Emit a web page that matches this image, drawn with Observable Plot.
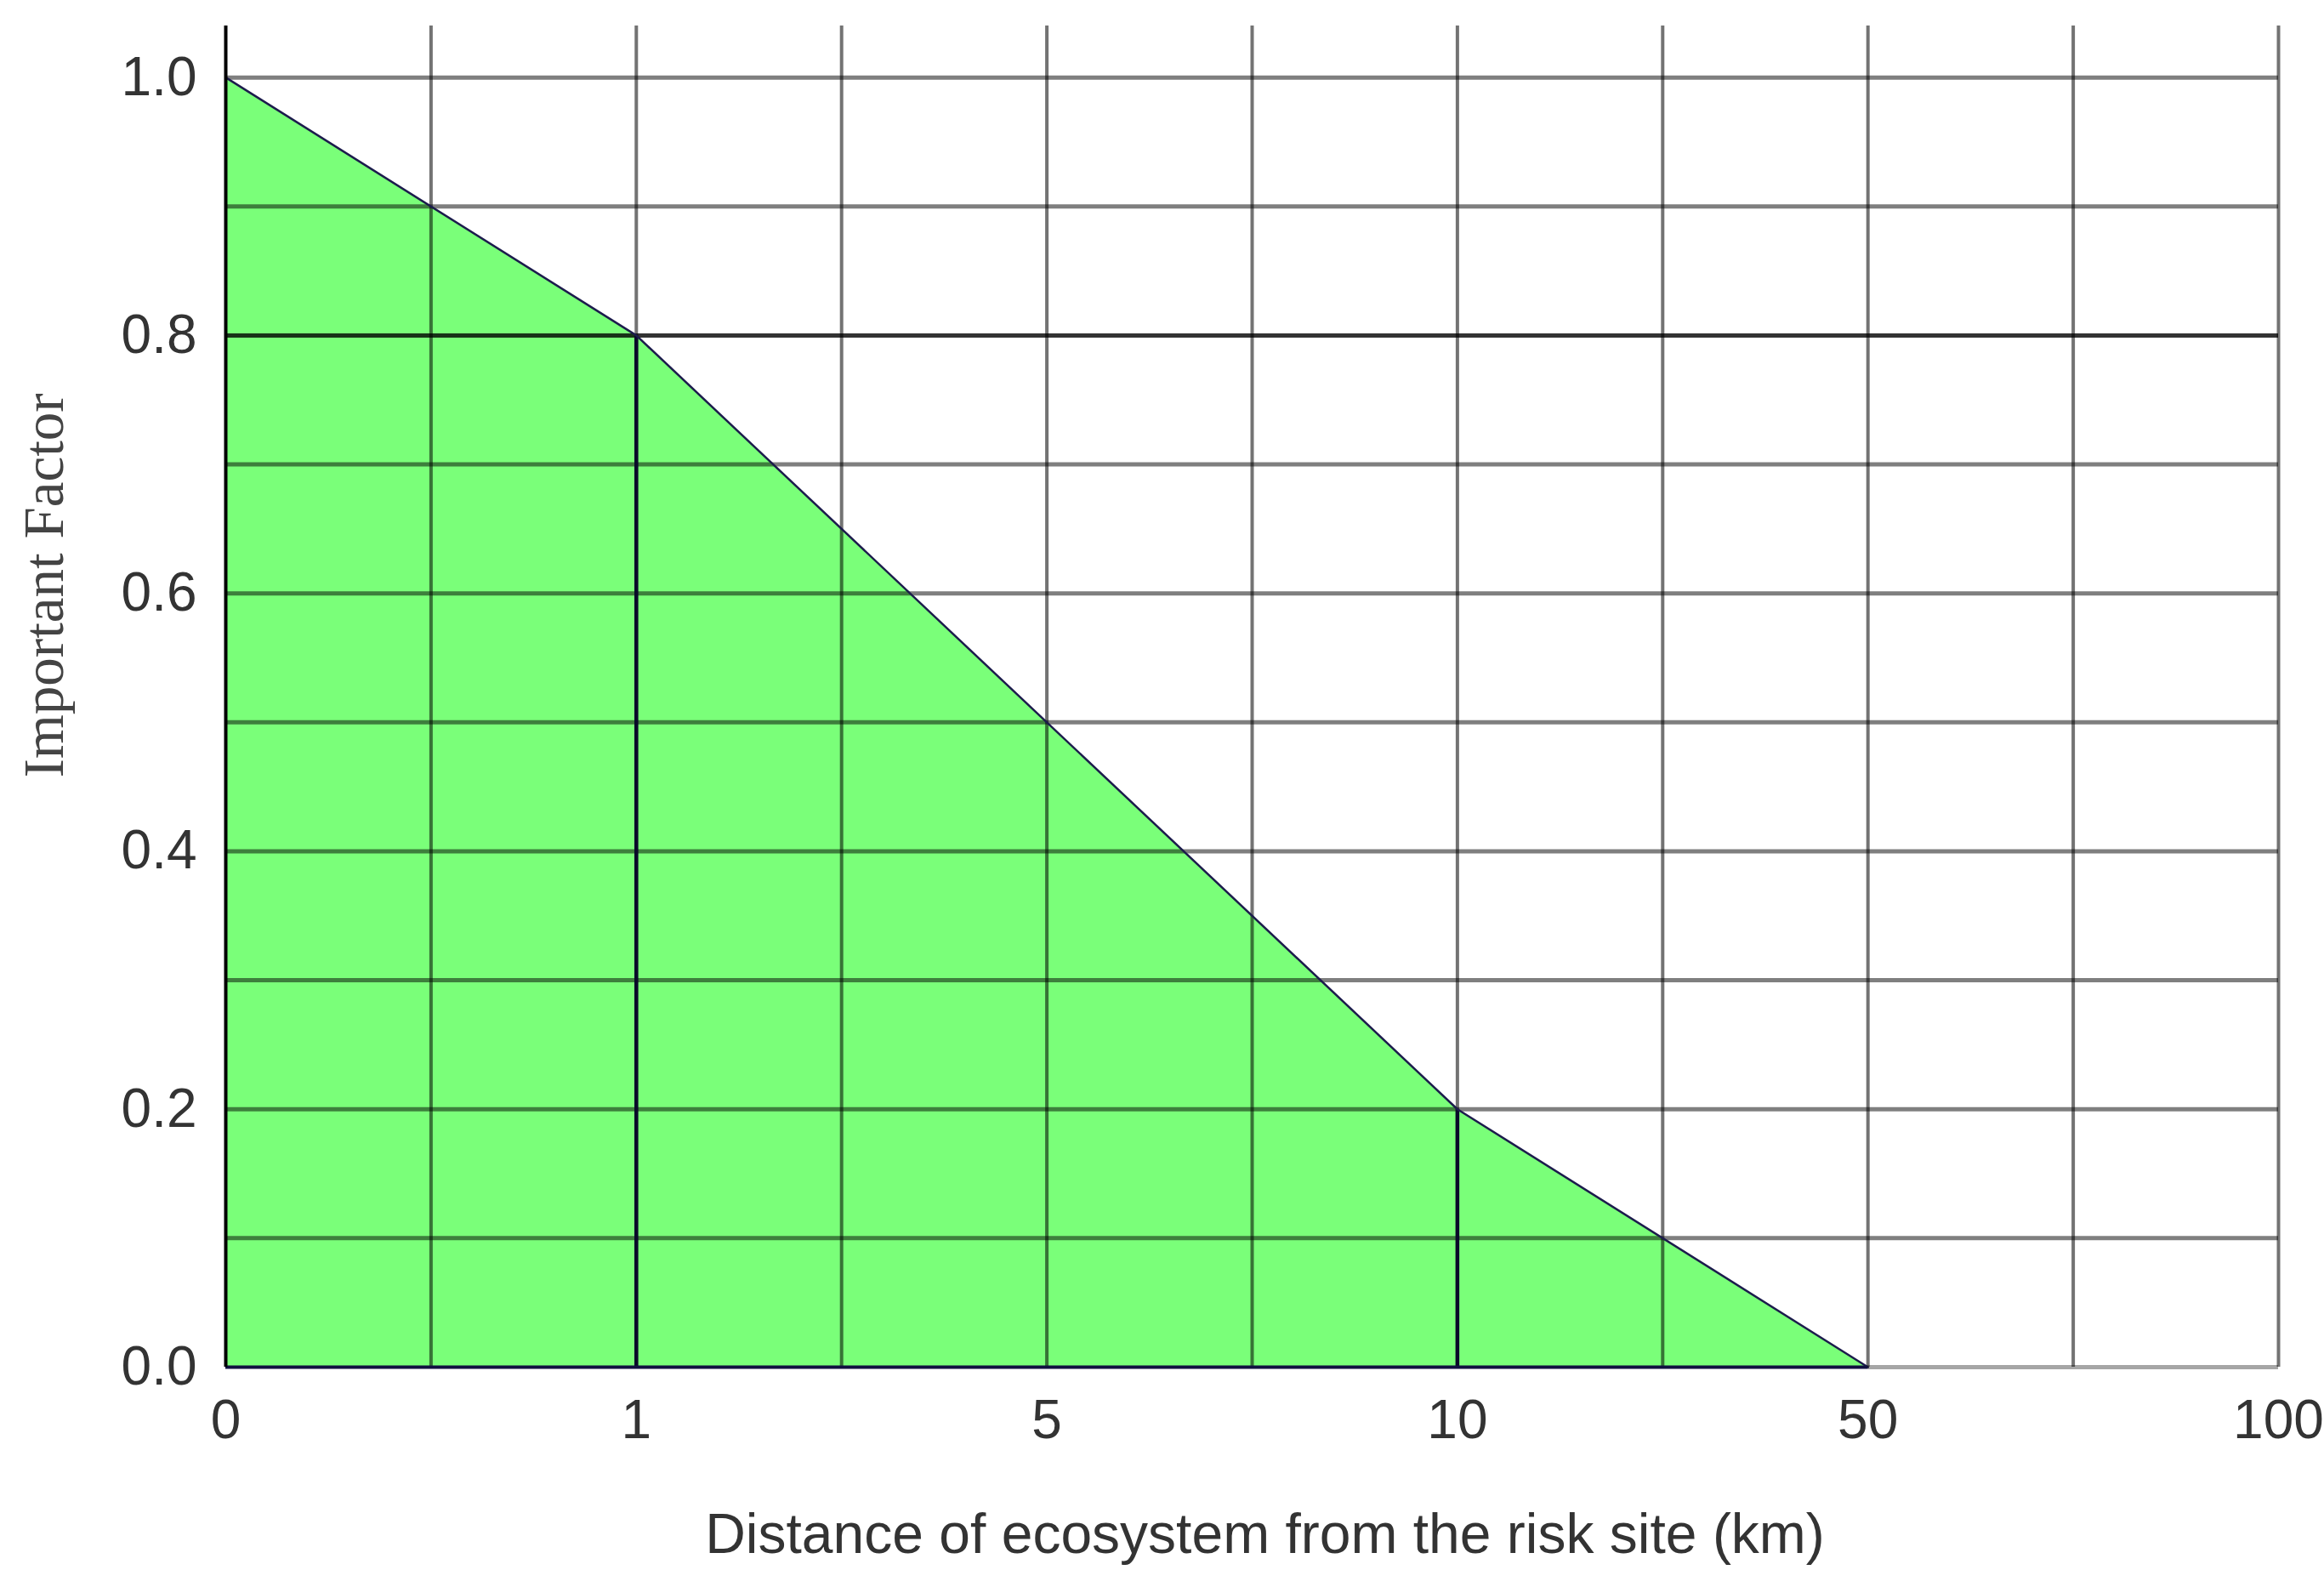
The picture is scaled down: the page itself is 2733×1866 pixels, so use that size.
<!DOCTYPE html>
<html>
<head>
<meta charset="utf-8">
<script src="https://cdn.jsdelivr.net/npm/d3@7"></script>
<script src="https://cdn.jsdelivr.net/npm/@observablehq/plot@0.6"></script>
<style>
  html, body { margin: 0; padding: 0; background: #fff; }
  #chart svg { display: block; }
</style>
</head>
<body>
<div id="chart"></div>
<script>
// Distance categories (equally spaced on the x axis)
const distanceLabels = ["0", "1", "5", "10", "50", "100"];
// Importance factor at each breakpoint distance (0, 1, 5, 10, 50 km)
const breakDistances = ["0", "1", "5", "10", "50"];
const factorValues = [1.0, 0.8, 0.5, 0.2, 0.0];
// Breakpoints with a heavy drop line down to the axis
const markedDistances = ["1", "10"];
// Axis ticks and grid
const yTicks = [0, 0.2, 0.4, 0.6, 0.8, 1.0];
const yGrid = [0.1, 0.2, 0.3, 0.4, 0.5, 0.6, 0.7, 0.8, 0.9, 1.0];
const xGrid = [0.5, 1, 1.5, 2, 2.5, 3, 3.5, 4, 4.5, 5];

const xTitle = "Distance of ecosystem from the risk site (km)";
const yTitle = "Important Factor";

const data = breakDistances.map((d, i) => ({ i: distanceLabels.indexOf(d), v: factorValues[i] }));
const drops = markedDistances.map(d => ({ i: distanceLabels.indexOf(d), v: factorValues[breakDistances.indexOf(d)] }));

const chart = Plot.plot({
  width: 2733,
  height: 1866,
  marginLeft: 265,
  marginRight: 54,
  marginTop: 30,
  marginBottom: 259,
  style: { fontFamily: "'Liberation Sans', Arial, sans-serif", background: "#fff" },
  x: { domain: [0, 5], axis: null },
  y: { domain: [0, 1.04], axis: null },
  marks: [
    Plot.areaY(data, { x: "i", y: "v", fill: "#7aff79" }),
    Plot.ruleX(xGrid, { y1: 0, y2: 1.04, stroke: "#000", strokeOpacity: 0.55, strokeWidth: 4 }),
    Plot.ruleY(yGrid, { x1: 0, x2: 5, stroke: "#000", strokeOpacity: d => d === 0.8 ? 0.8 : 0.5, strokeWidth: 5 }),
    Plot.ruleX(drops, { x: "i", y1: 0, y2: "v", stroke: "#0a0a2a", strokeWidth: 4.5 }),
    Plot.line(data, { x: "i", y: "v", stroke: "#1c1c4c", strokeWidth: 2.5 }),
    Plot.ruleY([0], { x1: 0, x2: 4, stroke: "#101040", strokeWidth: 4 }),
    Plot.ruleY([0], { x1: 4, x2: 5, stroke: "#000", strokeOpacity: 0.35, strokeWidth: 5 }),
    Plot.ruleX([0], { y1: 0, y2: 1.04, stroke: "#000", strokeWidth: 4 }),
    Plot.axisY({ ticks: yTicks, label: null, tickSize: 0, tickPadding: 34, tickFormat: d => d.toFixed(1), fontSize: 64, fill: "#333" }),
    Plot.axisX({ ticks: [0, 1, 2, 3, 4, 5], label: null, tickSize: 0, tickPadding: 38, tickFormat: i => distanceLabels[i], fontSize: 64, fill: "#333" }),
    Plot.text([xTitle], { frameAnchor: "bottom", dx: 15, dy: 218, fontSize: 66, fill: "#333", text: d => d }),
    Plot.text([yTitle], { frameAnchor: "top-left", textAnchor: "middle", lineAnchor: "middle", dx: -213, dy: 658, rotate: -90, fontSize: 67, fill: "#444", fontFamily: "'Liberation Serif', 'Times New Roman', serif", text: d => d })
  ]
});
document.getElementById("chart").appendChild(chart);
</script>
</body>
</html>
